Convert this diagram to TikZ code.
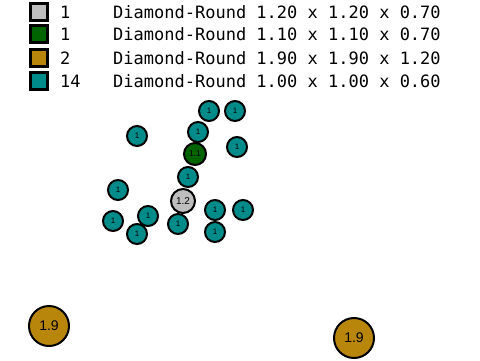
\documentclass[tikz,border=0pt]{standalone}
\usepackage{fontspec}
\setmonofont{DejaVu Sans Mono}
\newfontfamily\labelfont{Liberation Sans}
\usepackage{tikz}
\definecolor{silverbox}{RGB}{190,190,190}
\definecolor{darkgreenbox}{RGB}{0,100,0}
\definecolor{goldbox}{RGB}{184,134,11}
\definecolor{tealbox}{RGB}{0,139,139}
\tikzstyle{legendbox}=[rectangle,draw=black,line width=2.5pt,minimum size=17pt,inner sep=0pt]
\tikzstyle{legendtext}=[anchor=west,inner sep=0pt,font=\ttfamily\fontsize{17}{20}\selectfont]
\tikzstyle{disc}=[circle,draw=black,line width=2pt,inner sep=0pt,text=black]
\tikzstyle{small}=[disc,fill=tealbox,minimum size=20pt,font=\labelfont\fontsize{8}{9}\selectfont]

\begin{document}
\begin{tikzpicture}[x=1pt,y=-1pt]
    \useasboundingbox (0,0) rectangle (480,360);

    % legend
    \foreach \y/ \name/ \col/ \num/ \dims in {{12/gray/silverbox/1/1.20 x 1.20 x 0.70},{34/green/darkgreenbox/1/1.10 x 1.10 x 0.70},{58/gold/goldbox/2/1.90 x 1.90 x 1.20},{81/teal/tealbox/14/1.00 x 1.00 x 0.60}}
    {
        \node[legendbox,fill=\col] (box-\name) at (39,\y) {};
        \node[legendtext] (num-\name) at (60,\y) {\num};
        \node[legendtext] (dim-\name) at (113,\y) {Diamond-Round \dims};
    }

    % small pieces
    \foreach \pos/ \name in {{(209,111)/t1},{(235,111)/t2},{(137,136)/t3},{(198,132)/t4},{(237,147)/t5},{(188,177)/t6},{(118,190)/t7},{(113,221)/t8},{(148,216)/t9},{(137,234)/t10},{(178,224)/t11},{(215,210)/t12},{(243,210)/t13},{(215,232)/t14}}
        \node[small] (\name) at \pos {1};

    \node[disc,fill=darkgreenbox,minimum size=22pt,font=\labelfont\fontsize{8.5}{9}\selectfont] (g1) at (195,154) {1.1};
    \node[disc,fill=silverbox,minimum size=24pt,font=\labelfont\fontsize{10}{11}\selectfont] (s1) at (183,201) {1.2};

    % big pieces
    \foreach \pos/ \name in {{(49,326)/b1},{(354,338)/b2}}
        \node[disc,fill=goldbox,minimum size=40pt,font=\labelfont\fontsize{14}{15}\selectfont] (\name) at \pos {1.9};

\end{tikzpicture}
\end{document}
